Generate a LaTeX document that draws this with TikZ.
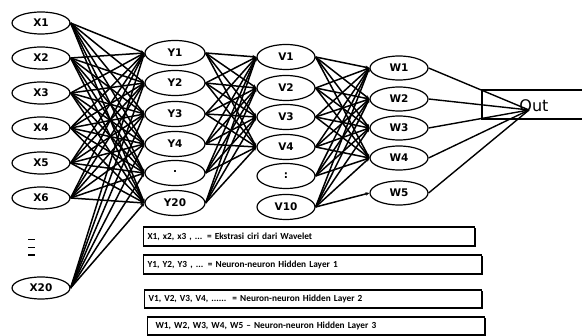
\documentclass[tikz,border=0pt]{standalone}
\usepackage{fontspec}
\newfontfamily\nodefont{DejaVu Sans}
\newfontfamily\legfont{Carlito}
\usetikzlibrary{shapes.geometric,arrows.meta,shadows}
\begin{document}
\begin{tikzpicture}[x=1pt,y=-1pt,
  neuron/.style={ellipse, draw, line width=1.2pt, fill=white, inner sep=0pt,
    minimum width=58pt, minimum height=22pt,
    font=\nodefont\bfseries\fontsize{10.5}{12}\selectfont},
  hid/.style={neuron, minimum height=25pt},
  conn/.style={line width=1.5pt, -{Stealth[length=4pt,width=3.5pt]}},
  legend/.style={draw, line width=1.1pt, fill=white, anchor=west, align=left,
    minimum height=19pt, inner ysep=0pt,
    drop shadow={shadow xshift=1.3pt, shadow yshift=-1.3pt, fill=black, opacity=1},
    font=\legfont\bfseries\fontsize{9.3}{10}\selectfont},
  outtext/.style={font=\nodefont\fontsize{16}{19}\selectfont, inner sep=0pt}
]
\useasboundingbox (0,0) rectangle (582,336);

% input layer
\node[neuron] (x1) at (41,23) {X1};
\node[neuron] (x2) at (41,58) {X2};
\node[neuron] (x3) at (41,93) {X3};
\node[neuron] (x4) at (41,128) {X4};
\node[neuron] (x5) at (41,163) {X5};
\node[neuron] (x6) at (41,198) {X6};
\node[neuron] (x20) at (41,288) {X20};
\draw[line width=0.7pt] (28,239) -- (35,239);
\draw[line width=0.9pt] (28,247) -- (35,247);
\draw[line width=1.4pt] (28,255) -- (35,255);

% hidden layer 1
\node[hid, minimum width=60pt] (y1) at (175,53) {Y1};
\node[hid, minimum width=60pt] (y2) at (175,83) {Y2};
\node[hid, minimum width=60pt] (y3) at (175,114) {Y3};
\node[hid, minimum width=60pt] (y4) at (175,144) {Y4};
\node[hid, minimum width=60pt] (yd) at (175,173) {\raisebox{3pt}{.}};
\node[hid, minimum width=60pt] (y20) at (175,203) {Y20};

% hidden layer 2
\node[hid] (v1) at (286,57) {V1};
\node[hid] (v2) at (286,88) {V2};
\node[hid] (v3) at (286,117) {V3};
\node[hid] (v4) at (286,147) {V4};
\node[hid] (vd) at (286,176) {:};
\node[hid] (v10) at (286,207) {V10};

% hidden layer 3
\node[neuron, minimum height=24pt] (w1) at (399,68) {W1};
\node[neuron, minimum height=24pt] (w2) at (399,99) {W2};
\node[neuron, minimum height=24pt] (w3) at (399,128) {W3};
\node[neuron, minimum height=24pt] (w4) at (399,158) {W4};
\node[neuron, minimum height=24pt] (w5) at (399,193) {W5};

% output
\draw[line width=1.1pt] (590,90) -- (482,90) -- (482,119) -- (590,119);
\node[outtext] (out) at (534,106) {Out};
\coordinate (o) at (529,110);

% connections
\foreach \a in {x1,x2,x3,x4,x5,x6,x20}
  \foreach \b in {y1,y2,y3,y4,yd,y20}
    \draw[conn] (\a.east) -- (\b.west);
\foreach \a in {y1,y2,y3,y4,yd,y20}
  \foreach \b in {v1,v2,v3,v4}
    \draw[conn] (\a.east) -- (\b.west);
\foreach \a in {v1,v2,v3,v4,vd,v10}
  \foreach \b in {w1,w2,w3,w4}
    \draw[conn] (\a.east) -- (\b.west);
\draw[conn] (v10.east) -- (w5.west);
\foreach \a in {w1,w2,w3,w4,w5}
  \draw[line width=1.4pt] (\a.east) -- (o);

% legend
\node[legend, minimum width=331pt, text width=323pt, inner xsep=4pt] (l1) at (143,236.5)
  {X1, x2, x3 , ... = Ekstrasi ciri dari Wavelet};
\node[legend, minimum width=338pt, text width=330pt, inner xsep=4pt] (l2) at (143,264.5)
  {Y1, Y2, Y3 , ... = Neuron-neuron Hidden Layer 1};
\node[legend, minimum width=337pt, minimum height=18pt, text width=329pt, inner xsep=4pt] (l3) at (144,299)
  {V1, V2, V3, V4, ......\ \ = Neuron-neuron Hidden Layer 2};
\node[legend, minimum width=337pt, minimum height=18pt, text width=321pt, inner xsep=8pt] (l4) at (147,326)
  {W1, W2, W3, W4, W5 – Neuron-neuron Hidden Layer 3};
\end{tikzpicture}
\end{document}
